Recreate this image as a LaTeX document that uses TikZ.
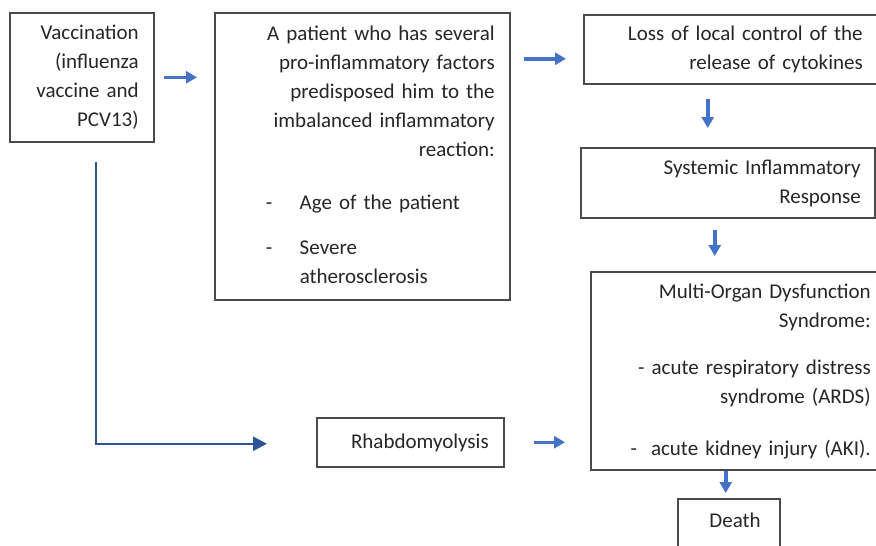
\documentclass[tikz,border=0pt]{standalone}
\usepackage{fontspec}
\setmainfont{Carlito}
\usepackage{tikz}
\usetikzlibrary{arrows.meta,calc}
\definecolor{rahmen}{HTML}{4A4A4A}
\definecolor{schrift}{HTML}{262626}
\definecolor{pfeilblau}{HTML}{4472C4}
\definecolor{linienblau}{HTML}{2F5597}
\def \breiteImpfung {114pt}
\def \breitePatient {265pt}
\def \breiteRechts {264pt}
\newcommand{\punkt}[2]{\makebox[\breitePatient][l]{\hspace*{36pt}\makebox[34pt][l]{#1}#2}}
\tikzset{
  kasten/.style={draw=rahmen,line width=1.5pt,anchor=north west,align=right,
    text=schrift,inner xsep=15pt,inner ysep=0pt,
    font=\fontsize{21}{29}\selectfont},
  pfeil/.style={draw=pfeilblau,line width=3.5pt,-{Triangle[length=11pt,width=12pt]}},
  linie/.style={draw=linienblau,line width=2.5pt,-{Triangle[length=14pt,width=14pt]}}
}
\begin{document}
\begin{tikzpicture}[x=1pt,y=-1pt]
  \useasboundingbox (0,0) rectangle (876,546);
  \node[kasten,text width=\breiteImpfung,minimum height=129pt] (impfung) at (9,12)
  {\strut Vaccination\\ (influenza\\ vaccine and\\ PCV13)\strut};
  \node[kasten,text width=\breitePatient,minimum height=287pt] (patient) at (214,12)
  {
    \strut A patient who has several\\
    pro-inflammatory factors\\
    predisposed him to the\\
    imbalanced inflammatory\\
    reaction:\\[24pt]
    \punkt{-}{Age of the patient}\\[16pt]
    \punkt{-}{Severe}\\
    \punkt{}{atherosclerosis}\strut
  };
  \node[kasten,text width=\breiteRechts,minimum height=69pt] (kontrolle) at (583,14)
  {\strut Loss of local control of the\\ release of cytokines\strut};
  \node[kasten,text width=266pt,inner xsep=14pt,minimum height=70pt] (sirs) at (580,147)
  {\strut Systemic Inflammatory\\ Response\strut};
  \node[kasten,text width=265pt,minimum height=198pt] (mods) at (590,271)
  {
    \strut Multi-Organ Dysfunction\\
    Syndrome:\\[18pt]
    - acute respiratory distress\\
    syndrome (ARDS)\\[23pt]
    -\ \ acute kidney injury (AKI).\strut
  };
  \node[kasten,text width=157pt,minimum height=49pt] (rhabdo) at (316,417)
  {\strut Rhabdomyolysis};
  \node[kasten,text width=64pt,inner xsep=19pt,inner ysep=8.7pt,text depth=40pt] (tod) at (677,498)
  {\strut Death};

  % Pfeile
  \coordinate (a2) at ([yshift=-9.5pt]kontrolle.west);
  \coordinate (a3) at ([xshift=-23pt]kontrolle.south);
  \coordinate (a4) at ([xshift=-13pt]sirs.south);
  \coordinate (a5) at ([xshift=-3pt]tod.north);
  \coordinate (a6) at ([yshift=-1.5pt]rhabdo.west);
  \draw[pfeil,shorten <=9pt,shorten >=17pt] (impfung.east) -- (impfung.east -| patient.west);
  \draw[pfeil,shorten <=13pt,shorten >=17pt] (a2 -| patient.east) -- (a2);
  \draw[pfeil,shorten <=14pt,shorten >=19pt] (a3) -- (a3 |- sirs.north);
  \draw[pfeil,shorten <=11pt,shorten >=15pt] (a4) -- (a4 |- mods.north);
  \draw[pfeil,shorten >=5pt] (a5 |- mods.south) -- (a5);
  \draw[pfeil,shorten <=29pt,shorten >=25pt] (rhabdo.east) -- (rhabdo.east -| mods.west);
  \draw[linie,shorten >=49pt] ([xshift=14pt]impfung.south) ++(0,19) |- (a6);
\end{tikzpicture}
\end{document}
